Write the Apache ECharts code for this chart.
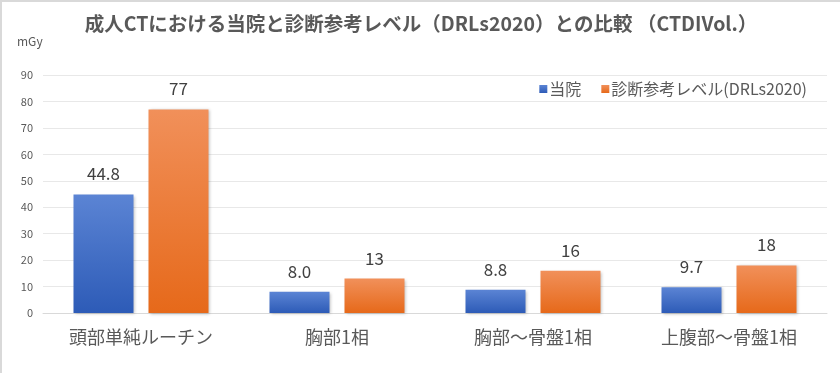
<!DOCTYPE html>
<html>
<head>
<meta charset="utf-8">
<script src="https://cdn.jsdelivr.net/npm/echarts@6/dist/echarts.min.js"></script>
<style>
html,body{margin:0;padding:0;background:#fff;}
#c{width:840px;height:373px;box-sizing:border-box;border-top:2px solid #d9d9d9;border-left:2px solid #d9d9d9;}
</style>
</head>
<body>
<div id="c"></div>
<script>
const titleText = '成人CTにおける当院と診断参考レベル（DRLs2020）との比較 （CTDIVol.）';
const unitLabel = 'mGy';
const categories = ['頭部単純ルーチン', '胸部1相', '胸部～骨盤1相', '上腹部～骨盤1相'];
const seriesNames = ['当院', '診断参考レベル(DRLs2020)'];
const hospitalValues = [44.8, 8.0, 8.8, 9.7];
const drlValues = [77, 13, 16, 18];
const yTicks = [0, 10, 20, 30, 40, 50, 60, 70, 80, 90];

const FONT = '"Noto Sans CJK JP", "Noto Sans", sans-serif';
const chart = echarts.init(document.getElementById('c'), null, {renderer: 'canvas'});

function grad(top, bottom) {
  return new echarts.graphic.LinearGradient(0, 0, 0, 1, [
    {offset: 0, color: top}, {offset: 1, color: bottom}
  ]);
}

chart.setOption({
  animation: false,
  textStyle: {fontFamily: FONT},
  title: {
    text: titleText,
    left: 'center',
    top: 7,
    textStyle: {fontSize: 19.5, fontWeight: 'bold', color: '#595959', fontFamily: FONT}
  },
  graphic: [{
    type: 'text',
    left: 15,
    top: 33,
    style: {text: unitLabel, fontSize: 12, fill: '#595959', fontFamily: FONT}
  }],
  legend: {
    data: seriesNames,
    right: 28,
    top: 74,
    itemWidth: 8,
    itemHeight: 8,
    itemGap: 20,
    icon: 'rect',
    textStyle: {fontSize: 16, color: '#595959', fontFamily: FONT, padding: [0, 0, 0, -3]}
  },
  grid: {left: 41, right: 13, top: 73, bottom: 60, containLabel: false},
  xAxis: {
    type: 'category',
    data: categories,
    axisLine: {lineStyle: {color: '#d9d9d9', width: 1}},
    axisTick: {show: false},
    axisLabel: {fontSize: 18, color: '#595959', margin: 15, fontFamily: FONT}
  },
  yAxis: {
    type: 'value',
    min: yTicks[0],
    max: yTicks[yTicks.length - 1],
    interval: 10,
    axisLine: {show: false},
    axisTick: {show: false},
    splitLine: {lineStyle: {color: '#e8e8e8', width: 1}},
    axisLabel: {fontSize: 11, color: '#595959', margin: 10}
  },
  series: [
    {
      name: seriesNames[0],
      type: 'bar',
      data: hospitalValues,
      barWidth: 60,
      barGap: '25%',
      itemStyle: {
        color: grad('#5b84d4', '#2d5bb7'),
        shadowColor: 'rgba(0,0,0,0.25)', shadowBlur: 3, shadowOffsetX: 1, shadowOffsetY: 1
      },
      label: {
        show: true, position: 'top', distance: 12,
        fontSize: 17, color: '#404040', fontFamily: FONT,
        formatter: p => p.value.toFixed(1)
      }
    },
    {
      name: seriesNames[1],
      type: 'bar',
      data: drlValues,
      barWidth: 60,
      itemStyle: {
        color: grad('#f1905a', '#e6691a'),
        shadowColor: 'rgba(0,0,0,0.25)', shadowBlur: 3, shadowOffsetX: 1, shadowOffsetY: 1
      },
      label: {
        show: true, position: 'top', distance: 12,
        fontSize: 17, color: '#404040', fontFamily: FONT
      }
    }
  ]
});
</script>
</body>
</html>
